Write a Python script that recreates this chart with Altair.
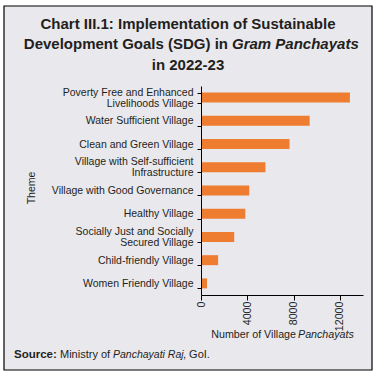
import altair as alt
import pandas as pd

# ---- data ----
themes = [
    "Poverty Free and Enhanced\nLivelihoods Village",
    "Water Sufficient Village",
    "Clean and Green Village",
    "Village with Self-sufficient\nInfrastructure",
    "Village with Good Governance",
    "Healthy Village",
    "Socially Just and Socially\nSecured Village",
    "Child-friendly Village",
    "Women Friendly Village",
]
counts = [12870, 9390, 7650, 5570, 4170, 3830, 2870, 1480, 520]
x_ticks = [0, 4000, 8000, 12000]

# ---- styling ----
OX, OY = 201, 86          # plot origin in page pixels
W, H = 162, 209
FONT = "Liberation Sans"
INK = "#231F20"
BG = "#E9E8ED"
ORANGE = "#EE7D31"

df = pd.DataFrame({"theme": themes, "count": counts})
one = pd.DataFrame({"k": [0]})


def txt(s, x, y, size, align="left", weight="normal", style="normal", angle=0):
    return alt.Chart(one).mark_text(
        text=s, align=align, baseline="middle", font=FONT, fontSize=size,
        fontWeight=weight, fontStyle=style, angle=angle, color=INK,
    ).encode(x=alt.value(x - OX), y=alt.value(y - OY))


frame = alt.Chart(one).mark_rect(fill=BG, stroke="black", strokeWidth=1.2).encode(
    x=alt.value(4 - OX), x2=alt.value(372 - OX),
    y=alt.value(6 - OY), y2=alt.value(370 - OY),
)

two_line = "isValid(datum.value) && indexof(datum.value, '\\n') >= 0"

bars = alt.Chart(df).mark_bar(color=ORANGE).encode(
    y=alt.Y(
        "theme:N", sort=themes,
        scale=alt.Scale(paddingInner=0.57, paddingOuter=0.285),
        axis=alt.Axis(
            title=None,
            labelExpr="isValid(datum.value) ? split(datum.value, '\\n') : ''",
            labelFont=FONT, labelFontSize=10.5, labelLineHeight=11,
            labelColor=INK, labelPadding=4, labelLimit=220,
            labelOffset={"condition": {"test": two_line, "value": -5.5}, "value": 0},
            tickSize=4, tickBand="extent", tickColor="black",
            domainColor="black", grid=False, zindex=1,
        ),
    ),
    x=alt.X(
        "count:Q",
        scale=alt.Scale(domain=[0, 14000], nice=False),
        axis=alt.Axis(
            title=None, values=x_ticks, format="d", labelAngle=270,
            labelFont=FONT, labelFontSize=10.7, labelColor=INK,
            labelPadding=1, tickSize=5, tickColor="black",
            domainColor="black", grid=False, zindex=1,
        ),
    ),
)

texts = [
    txt("Chart III.1: Implementation of Sustainable", 188, 24, 15, "center", "bold"),
    txt("Development Goals (SDG) in", 228, 44, 15, "right", "bold"),
    txt("Gram Panchayats", 232, 44, 15, "left", "bold", "italic"),
    txt("in 2022-23", 188, 65, 15, "center", "bold"),
    txt("Theme", 32, 188, 10.5, "center", angle=270),
    txt("Number of Village", 296, 335, 10.7, "right"),
    txt("Panchayats", 298, 335, 10.7, "left", style="italic"),
    txt("Source:", 14, 355, 11.5, "left", "bold"),
    txt("Ministry of", 60, 355, 11, "left"),
    txt("Panchayati Raj", 113, 355, 10.5, "left", style="italic"),
    txt(", GoI.", 183, 355, 11, "left"),
]

chart = alt.layer(frame, bars, *texts).properties(
    width=W, height=H,
    padding={"left": OX, "top": OY, "right": 377 - OX - W, "bottom": 377 - OY - H},
    autosize=alt.AutoSizeParams(type="none"),
    background="white",
).configure_view(strokeWidth=0)

chart.save("out.html", embed_options={"renderer": "svg", "actions": False})
